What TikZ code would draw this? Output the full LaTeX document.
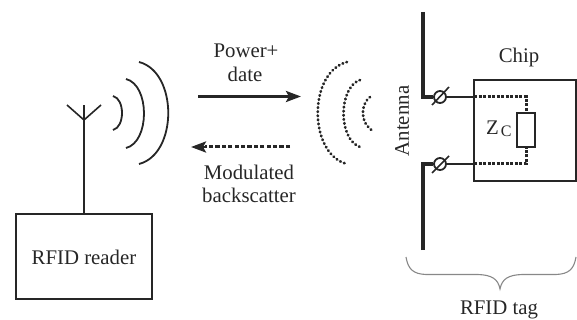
\documentclass[tikz,border=0pt]{standalone}
\usepackage{fontspec}
\setmainfont{Liberation Serif}
\usetikzlibrary{arrows.meta}
\definecolor{ink}{HTML}{262626}
\tikzset{
  wire/.style={draw=ink,line width=1.6pt},
  heavy/.style={draw=ink,line width=3.2pt},
  wave/.style={draw=ink,line width=1.8pt},
  dotwave/.style={draw=ink,line width=2.8pt,line cap=round,dash pattern=on 0.6pt off 3.5pt},
  dotwire/.style={draw=ink,line width=3pt,dash pattern=on 3pt off 1.5pt},
  box/.style={draw=ink,line width=2pt,rectangle,inner sep=0pt},
  port/.style={draw=ink,line width=1.8pt,circle,minimum size=12pt,inner sep=0pt},
  lbl/.style={text=ink,font=\fontsize{20.8}{24}\selectfont,inner sep=0pt}
}
\begin{document}
\begin{tikzpicture}[x=1pt,y=-1pt]
  \useasboundingbox (0,0) rectangle (577,320);
  % reader
  \node[box,minimum width=136pt,minimum height=85pt] (reader) at (84,256.5) {};
  \node[lbl] (readertext) at (84,257) {RFID reader};
  \coordinate (mast) at (84,120);
  \coordinate (mastt) at (84,105);
  \coordinate (prongl) at (67,105);
  \coordinate (prongr) at (101,105);
  \draw[wire] (reader.north) -- (mast);
  \draw[wire] (mast) -- (mastt);
  \draw[wire] (prongl) -- (mast) -- (prongr);
  % waves out
  \draw[wave] (113,96) .. controls (125,99) and (125,127) .. (113,130);
  \draw[wave] (126,79) .. controls (150,85) and (150,142) .. (126,148);
  \draw[wave] (139,62) .. controls (178,72) and (178,154) .. (139,164);
  % waves back
  \draw[dotwave] (347,62) .. controls (308,72) and (308,154) .. (347,164);
  \draw[dotwave] (360,80) .. controls (338,88) and (338,139) .. (360,147);
  \draw[dotwave] (370,97) .. controls (360,105) and (360,123) .. (373,131);
  % arrows
  \coordinate (powers) at (198,96.5);
  \coordinate (powere) at (301,96.5);
  \coordinate (backs) at (290,147);
  \coordinate (backm) at (205,147);
  \coordinate (backe) at (191,147);
  \draw[draw=ink,line width=2.8pt,-{Stealth[length=15pt,width=11pt,inset=3pt]}] (powers) -- (powere);
  \draw[dotwire,dash pattern=on 4.2pt off 2.2pt] (backs) -- (backm);
  \draw[draw=ink,line width=2.8pt,-{Stealth[length=15pt,width=11pt,inset=3pt]}] (backm) -- (backe);
  \node[lbl] (power) at (246,51) {Power+};
  \node[lbl] (date) at (245,74) {date};
  \node[lbl] (modulated) at (249,172) {Modulated};
  \node[lbl] (backscatter) at (249,195) {backscatter};
  % chip
  \node[box,minimum width=102pt,minimum height=101pt] (chip) at (525,130.5) {};
  \node[lbl] (chiptext) at (519,58) {Chip};
  \node[box,fill=white,line width=2.4pt,minimum width=18pt,minimum height=34pt] (zc) at (526,130) {};
  \node[lbl,anchor=west] (zctext) at (486,129) {Z\kern2pt\raisebox{-1.5pt}{\fontsize{16}{16}\selectfont C}};
  % ports
  \node[port] (porta) at (440,97) {};
  \node[port] (portb) at (440,164) {};
  \coordinate (joina) at (474,97);
  \coordinate (joinb) at (474,164);
  \coordinate (corna) at (526,97);
  \coordinate (cornb) at (526,164);
  \draw[wire] (porta) -- (joina);
  \draw[wire] (portb) -- (joinb);
  \draw[dotwire] (joina) -- (corna) -- (zc.north);
  \draw[dotwire] (joinb) -- (cornb) -- (zc.south);
  \draw[wire] (432,105) -- (449,87);
  \draw[wire] (432,173) -- (449,156);
  % antenna
  \coordinate (anta) at (423,12);
  \coordinate (antb) at (423,250);
  \coordinate (benda) at (423,97);
  \coordinate (bendb) at (423,164);
  \draw[heavy] (anta) -- (benda) -- (porta);
  \draw[heavy] (antb) -- (bendb) -- (portb);
  \node[lbl,rotate=90] (anttext) at (402,121) {Antenna};
  % brace
  \draw[draw=ink!55,line width=1.1pt] (406,257) .. controls (408,269) and (413,274) .. (426,274.5) -- (478,274.5)
    .. controls (492,275) and (498,279) .. (500,289) .. controls (502,279) and (508,275) .. (522,274.5) -- (556,274.5)
    .. controls (569,274) and (574,269) .. (576,257);
  \node[lbl] (tagtext) at (499,310) {RFID tag};
\end{tikzpicture}
\end{document}
